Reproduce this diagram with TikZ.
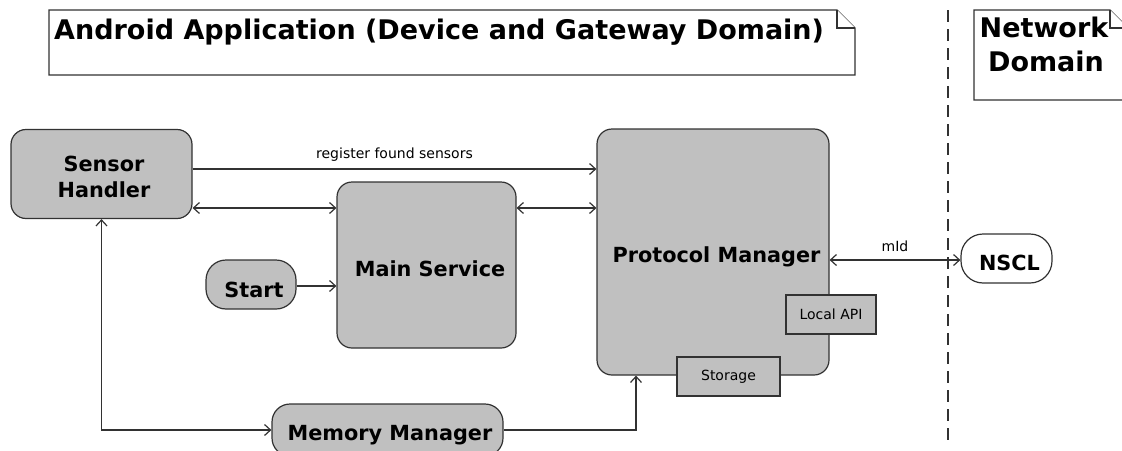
\documentclass[tikz,border=0pt]{standalone}
\usepackage{fontspec}
\setmainfont{DejaVu Sans}
\usetikzlibrary{arrows.meta}
\definecolor{linec}{RGB}{50,50,50}
\definecolor{boxgray}{RGB}{192,192,192}
\begin{document}
\begin{tikzpicture}[x=1pt,y=-1pt,
  >={Straight Barb[length=6pt,width=11pt]},
  box/.style={draw=linec, fill=boxgray, rounded corners=15pt, line width=1.2pt, inner sep=0pt},
  boxtxt/.style={font=\bfseries\fontsize{20.8}{25.6}\selectfont, align=center, inner sep=0pt, text=black},
  sub/.style={draw=linec, fill=boxgray, line width=1.2pt,
    font=\fontsize{14}{16}\selectfont, inner sep=0pt},
  conn/.style={draw=linec, line width=1.2pt},
  lbl/.style={font=\fontsize{14}{16}\selectfont, text=black},
  note/.style={draw=linec, fill=white, line width=1.2pt},
  title/.style={font=\bfseries\fontsize{27}{34}\selectfont, inner sep=0pt, text=black}]
\useasboundingbox (0,0) rectangle (1122,450);
% notes
\draw[note] (49,10) -- (837,10) -- (855,28) -- (855,75) -- (49,75) -- cycle;
\draw[note] (837,10) -- (837,28) -- (855,28);
\node[title, anchor=base west] (ttl) at (54,39.5) {Android Application (Device and Gateway Domain)};
\draw[note] (974,10) -- (1110,10) -- (1128,28) -- (1128,100) -- (974,100) -- cycle;
\draw[note] (1110,10) -- (1110,28) -- (1128,28);
\node[title, anchor=base] (nd1) at (1044,37.5) {Network};
\node[title, anchor=base] (nd2) at (1046,71.5) {Domain};
% domain separator
\draw[linec, line width=1.2pt, dash pattern=on 12pt off 7pt] (948,10) -- (948,442);
% boxes
\node[box, minimum width=181pt, minimum height=89pt] (sh) at (101.5,174) {};
\node[box, minimum width=179pt, minimum height=166pt] (ms) at (426.5,265) {};
\node[box, rounded corners=20pt, minimum width=90pt, minimum height=49pt] (st) at (251,284.5) {};
\node[box, minimum width=232pt, minimum height=246pt] (pm) at (713,252) {};
\node[sub, minimum width=90pt, minimum height=39pt] (la) at (831,314.5) {Local API};
\node[sub, minimum width=103pt, minimum height=39pt] (sto) at (728.5,376.5) {Storage};
\node[box, fill=white, rounded corners=22pt, minimum width=91pt, minimum height=49pt] (nscl) at (1006.5,258.5) {};
\node[box, rounded corners=18pt, minimum width=231pt, minimum height=52pt] (mm) at (387.5,430) {};
% box texts
\node[boxtxt] (sht) at ([shift={(2.5,3)}]sh.center) {Sensor\\Handler};
\node[boxtxt] (mst) at ([shift={(3.5,4)}]ms.center) {Main Service};
\node[boxtxt] (stt) at ([shift={(3,5)}]st.center) {Start};
\node[boxtxt] (pmt) at ([shift={(3.5,5)}]pm.center) {Protocol Manager};
\node[boxtxt] (nsclt) at ([shift={(3,4)}]nscl.center) {NSCL};
\node[boxtxt] (mmt) at ([shift={(2.5,5)}]mm.center) {Memory Manager};
% connectors
\draw[conn,->] (sh.east |- 0,169) -- node[lbl, above=4pt] (l1) {register found sensors} (pm.west |- 0,169);
\draw[conn,<->] (sh.east |- 0,208) -- (ms.west |- 0,208);
\draw[conn,<->] (ms.east |- 0,208) -- (pm.west |- 0,208);
\draw[conn,->] (st.east |- 0,286) -- (ms.west |- 0,286);
\draw[conn,<->] (pm.east |- 0,260) -- node[lbl, above=4pt] (l2) {mId} (nscl.west |- 0,260);
\draw[conn,<->] (sh.south) |- (mm.west);
\draw[conn,->] (mm.east) -| (pm.south -| 636,0);
\end{tikzpicture}
\end{document}
